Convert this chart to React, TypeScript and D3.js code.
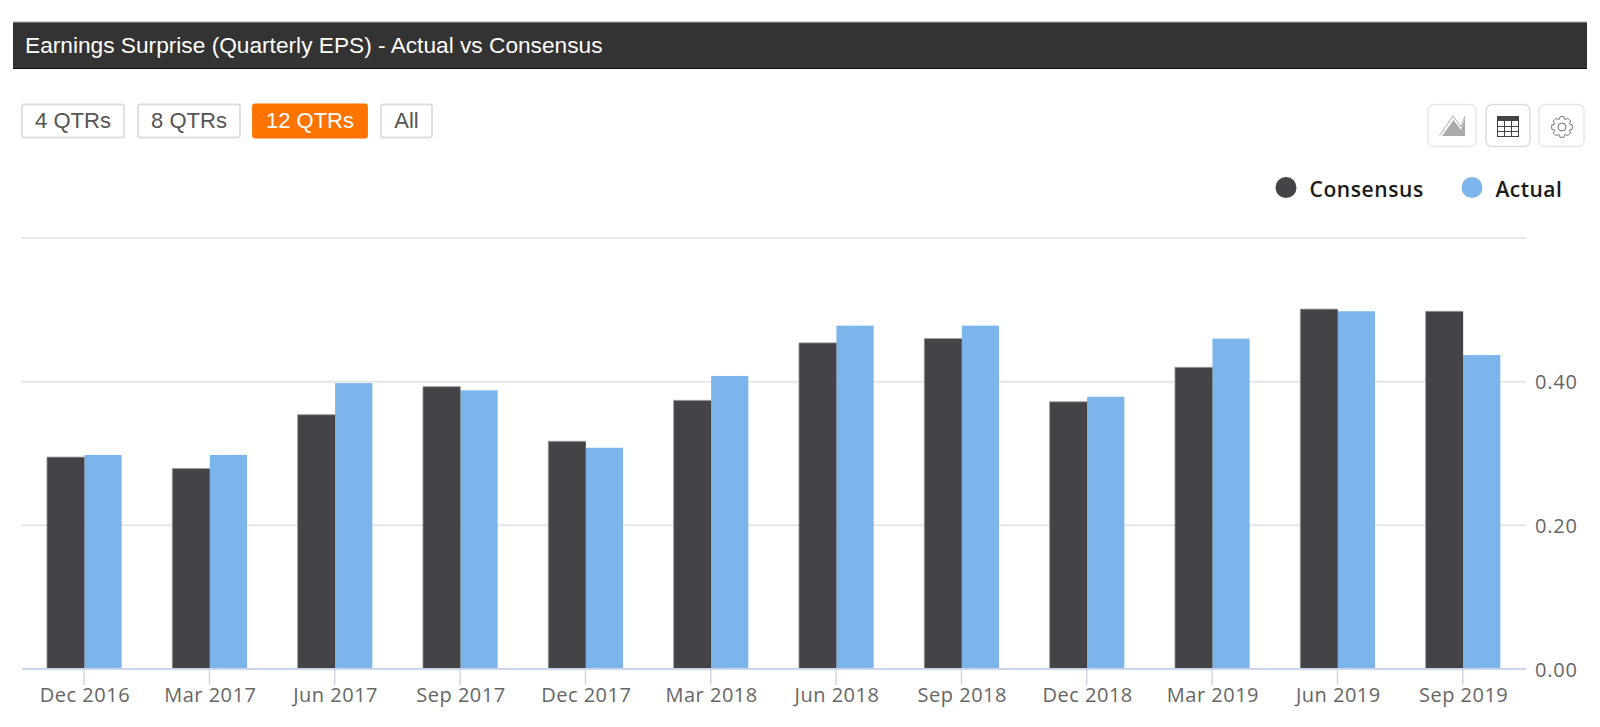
import React from "react";
import * as d3 from "d3";

const quarters = ["Dec 2016","Mar 2017","Jun 2017","Sep 2017","Dec 2017","Mar 2018","Jun 2018","Sep 2018","Dec 2018","Mar 2019","Jun 2019","Sep 2019"];
const consensus = [0.295,0.279,0.354,0.393,0.317,0.374,0.454,0.46,0.372,0.42,0.501,0.498];
const actual = [0.298,0.298,0.398,0.388,0.308,0.408,0.478,0.478,0.379,0.46,0.498,0.437];
const yTicks = [0,0.2,0.4,0.6];
const buttons = ["4 QTRs","8 QTRs","12 QTRs","All"];
const buttonX = [22,138,253,381];
const buttonW = [102,102,114,51];

const DARK = "#434348";
const BLUE = "#7cb5ec";
const sans = "'Liberation Sans', Arial, sans-serif";
const chartFont = "'Open Sans', 'DejaVu Sans', sans-serif";

function gearPath(cx: number, cy: number) {
  const teeth = 8;
  const pts: [number, number][] = [];
  for (let i = 0; i < teeth; i++) {
    const a = (i / teeth) * Math.PI * 2;
    const s = Math.PI / teeth;
    [[8, -s * 0.95], [10.5, -s * 0.5], [10.5, s * 0.5], [8, s * 0.95]].forEach(([r, o]) => {
      pts.push([cx + r * Math.sin(a + o), cy - r * Math.cos(a + o)]);
    });
  }
  return d3.line().curve(d3.curveLinearClosed)(pts) as string;
}

export default function App() {
  const x = d3.scaleBand<string>().domain(quarters).range([22, 1526]);
  const y = d3.scaleLinear().domain([0, 0.6]).range([669, 238]);
  const barW = 37.5;
  const base = y(0);
  return (
    <svg width={1600} height={727} viewBox="0 0 1600 727" style={{position:"fixed",left:0,top:0,background:"#fff",display:"block"}}>
      <rect x={13} y={22} width={1574} height={47} fill="#333"/>
      <line x1={13} x2={1587} y1={22} y2={22} stroke="#aaa" strokeWidth={1}/>
      <line x1={13} x2={1587} y1={68.5} y2={68.5} stroke="#111" strokeWidth={1}/>
      <text x={25} y={52.5} fill="#fff" fontFamily={sans} fontSize={22.7}>Earnings Surprise (Quarterly EPS) - Actual vs Consensus</text>

      {buttons.map((b,i)=>{
        const bx = buttonX[i];
        const w = buttonW[i];
        const active = i===2;
        return <g key={b}>
          <rect x={bx} y={104.5} width={w} height={33} rx={2} fill={active?"#ff7300":"#fff"} stroke={active?"#ff7300":"#ddd"} strokeWidth={1.8}/>
          <text x={bx+w/2} y={128} textAnchor="middle" fontFamily={sans} fontSize={22} fill={active?"#fff":"#555"}>{b}</text>
        </g>;
      })}

      {/* toolbar icons */}
      <rect x={1428} y={104.5} width={48} height={42} rx={6} fill="#fff" stroke="#e6e6e6" strokeWidth={1.5}/>
      <path d="M1439.5 135.5 L1453 116 L1461 127 L1465 116" fill="none" stroke="#aaa" strokeWidth={1}/>
      <path d="M1442 136 L1453.5 120 L1461 130 L1465 118 L1465 136 Z" fill="#aaa"/>
      <rect x={1486} y={104.5} width={44} height={42} rx={6} fill="#fff" stroke="#ddd" strokeWidth={1.5}/>
      <rect x={1497.5} y={116.5} width={21} height={20} fill="#fff" stroke="#444" strokeWidth={1}/>
      <rect x={1497} y={116} width={22} height={5} fill="#444"/>
      <path d="M1504.5 121V136M1511.5 121V136M1498 126.5H1518M1498 131.5H1518" stroke="#444" strokeWidth={1}/>
      <rect x={1539} y={104.5} width={45} height={42} rx={6} fill="#fff" stroke="#e6e6e6" strokeWidth={1.5}/>
      <path d={gearPath(1562,127)} fill="none" stroke="#777" strokeWidth={1}/>
      <circle cx={1562} cy={127} r={4} fill="none" stroke="#777" strokeWidth={1}/>

      {/* legend */}
      <circle cx={1286} cy={187.5} r={10.5} fill={DARK}/>
      <text x={1309.5} y={196.5} fontFamily={chartFont} fontSize={21} fontWeight={600} fill="#1a1a1a" letterSpacing={0.6}>Consensus</text>
      <circle cx={1472} cy={187.5} r={10.5} fill={BLUE}/>
      <text x={1495.5} y={196.5} fontFamily={chartFont} fontSize={21} fontWeight={600} fill="#1a1a1a" letterSpacing={0.45}>Actual</text>

      {/* grid */}
      {yTicks.filter(t=>t>0).map(t=><line key={t} x1={22} x2={1526} y1={y(t)} y2={y(t)} stroke="#e6e6e6" strokeWidth={2}/>)}

      {/* bars */}
      {quarters.map((q,i)=>{
        const c = x(q)! + x.bandwidth()/2 - 0.2;
        const yc = y(consensus[i]);
        const ya = y(actual[i]);
        return <g key={q}>
          <rect x={c} y={ya} width={barW-0.3} height={base-ya} fill={BLUE}/>
          <rect x={c-barW} y={yc} width={barW} height={base-yc} fill={DARK}/>
          <path d={`M${c-barW} ${base}V${yc}H${c}`} fill="none" stroke="#9a9a9d" strokeWidth={0.8}/>
        </g>;
      })}

      {/* axes */}
      <line x1={22} x2={1526} y1={base} y2={base} stroke="#ccd6eb" strokeWidth={2}/>
      {quarters.map(q=>{
        const c = x(q)! + x.bandwidth()/2 - 0.5;
        return <g key={q}>
          <line x1={c} x2={c} y1={base} y2={685} stroke="#ccd6eb" strokeWidth={1.5}/>
          <text x={c+0.8} y={701.5} textAnchor="middle" fontFamily={chartFont} fontSize={20} fill="#666" letterSpacing={0.5}>{q}</text>
        </g>;
      })}
      {yTicks.filter(t=>t<0.6).map(t=><text key={t} x={1535} y={y(t)+7.5} fontFamily={chartFont} fontSize={20} fill="#666" letterSpacing={0.8}>{d3.format(".2f")(t)}</text>)}
    </svg>
  );
}
